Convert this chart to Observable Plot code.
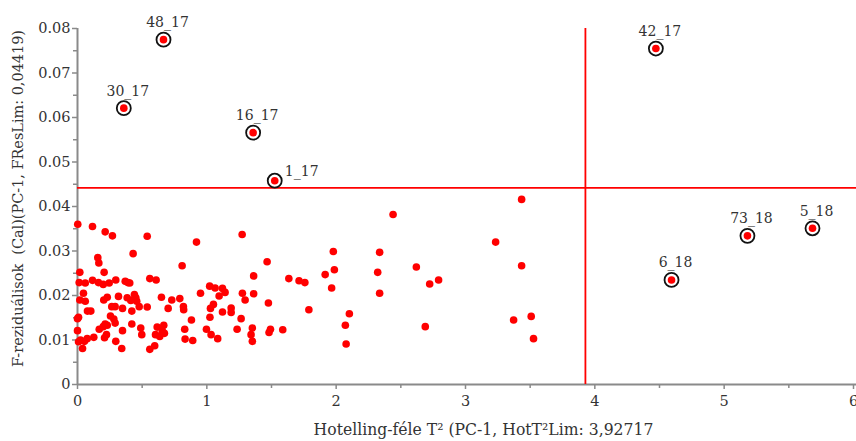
<!DOCTYPE html>
<html>
<head>
<meta charset="utf-8">
<script src="https://cdn.jsdelivr.net/npm/d3@7"></script>
<script src="https://cdn.jsdelivr.net/npm/@observablehq/plot@0.6"></script>
<style>
  body { margin: 0; background: #fff; }
  #chart svg { display: block; }
</style>
</head>
<body>
<div id="chart"></div>
<script>
// Hotelling T² and F-residual values of the calibration samples (PC-1)
const hotT2 = [
  0.002, 0.116, 0.214, 0.270, 0.430, 0.157, 0.165, 0.206, 0.018, 0.013,
  0.060, 0.116, 0.162, 0.199, 0.245, 0.296, 0.369, 0.389, 0.404, 0.046,
  0.018, 0.060, 0.203, 0.230, 0.317, 0.384, 0.412, 0.440, 0.451, 0.458,
  0.265, 0.291, 0.348, 0.420, 0.477, 0.077, 0.103, 0.000, 0.008, 0.255,
  0.281, 0.214, 0.230, 0.168, 0.199, 0.291, 0.348, 0.420, 0.489, 0.497,
  0.000, 0.209, 0.224, 0.126, 0.075, 0.054, 0.008, 0.023, 0.039, 0.296,
  0.342, 0.539, 0.920, 0.809, 0.559, 0.608, 0.649, 0.729, 0.791, 0.951,
  1.022, 0.539, 0.701, 0.819, 0.821, 1.028, 0.881, 1.024, 0.616, 0.667,
  0.655, 0.603, 0.636, 0.672, 0.829, 0.997, 1.033, 0.832, 0.891, 0.559,
  0.597, 1.273, 1.466, 1.362, 1.064, 1.121, 1.141, 1.095, 1.275, 1.296,
  1.362, 1.476, 1.051, 1.188, 1.188, 1.121, 1.265, 1.234, 1.352, 1.342,
  1.352, 1.492, 1.481, 1.084, 1.587, 1.634, 1.713, 1.758, 1.789, 1.915,
  1.978, 1.986, 1.965, 2.071, 2.102, 2.077, 2.321, 2.336, 2.336, 2.440,
  2.620, 2.723, 2.792, 2.689, 3.233, 3.434, 3.434, 3.372, 3.508, 3.526
];
const fResid = [
  0.0360, 0.0355, 0.0343, 0.0334, 0.0294, 0.0285, 0.0273, 0.0252, 0.0252, 0.0229,
  0.0228, 0.0234, 0.0229, 0.0225, 0.0228, 0.0235, 0.0232, 0.0229, 0.0228, 0.0205,
  0.0190, 0.0187, 0.0190, 0.0196, 0.0198, 0.0195, 0.0189, 0.0202, 0.0195, 0.0187,
  0.0175, 0.0175, 0.0171, 0.0165, 0.0175, 0.0165, 0.0165, 0.0148, 0.0151, 0.0154,
  0.0147, 0.0136, 0.0133, 0.0124, 0.0130, 0.0138, 0.0121, 0.0136, 0.0127, 0.0112,
  0.0121, 0.0105, 0.0112, 0.0106, 0.0103, 0.0097, 0.0096, 0.0100, 0.0081, 0.0097,
  0.0081, 0.0333, 0.0320, 0.0267, 0.0238, 0.0235, 0.0196, 0.0190, 0.0193, 0.0205,
  0.0221, 0.0174, 0.0171, 0.0175, 0.0168, 0.0171, 0.0145, 0.0151, 0.0129, 0.0133,
  0.0121, 0.0112, 0.0108, 0.0115, 0.0124, 0.0124, 0.0112, 0.0102, 0.0099, 0.0079,
  0.0087, 0.0337, 0.0276, 0.0244, 0.0217, 0.0216, 0.0207, 0.0199, 0.0205, 0.0190,
  0.0204, 0.0183, 0.0180, 0.0172, 0.0162, 0.0163, 0.0148, 0.0124, 0.0127, 0.0112,
  0.0097, 0.0124, 0.0117, 0.0103, 0.0123, 0.0238, 0.0233, 0.0229, 0.0168, 0.0247,
  0.0299, 0.0258, 0.0217, 0.0133, 0.0159, 0.0091, 0.0252, 0.0297, 0.0205, 0.0382,
  0.0264, 0.0226, 0.0235, 0.0130, 0.0320, 0.0416, 0.0267, 0.0145, 0.0153, 0.0103
];

// Flagged samples (outside at least one limit)
const outlierNames = ["48_17", "30_17", "16_17", "1_17", "42_17", "73_18", "5_18", "6_18"];
const outlierT2    = [0.665, 0.358, 1.358, 1.525, 4.472, 5.180, 5.683, 4.593];
const outlierF     = [0.0775, 0.0621, 0.0566, 0.0458, 0.0755, 0.0334, 0.0351, 0.0235];

// Limits
const hotT2Lim = 3.92717;
const fResLim = 0.04419;

// Axis ticks
const xTicks = [0, 1, 2, 3, 4, 5, 6];
const xMinorTicks = [0.5, 1.5, 2.5, 3.5, 4.5, 5.5];
const yTicks = [0, 0.01, 0.02, 0.03, 0.04, 0.05, 0.06, 0.07, 0.08];
const yMinorTicks = [0.005, 0.015, 0.025, 0.035, 0.045, 0.055, 0.065, 0.075];

const xTitle = "Hotelling-féle T² (PC-1, HotT²Lim: 3,92717";
const yTitle = "F-reziduálisok  (Cal)(PC-1, FResLim: 0,04419)";

const samples = hotT2.map((t, i) => ({t, f: fResid[i]}));
const outliers = outlierNames.map((name, i) => ({name, t: outlierT2[i], f: outlierF[i]}));

const serif = "DejaVu Serif, serif";
const axisGrey = "#8a8a8a";
const textGrey = "#333";

const chart = Plot.plot({
  width: 856,
  height: 441,
  marginLeft: 77,
  marginRight: 3,
  marginTop: 28,
  marginBottom: 57,
  style: {fontFamily: serif, background: "#fff"},
  x: {domain: [0, 6]},
  y: {domain: [0, 0.08]},
  marks: [
    // axis lines
    Plot.ruleY([0], {stroke: axisGrey, strokeWidth: 2, x1: 0, x2: 6.03}),
    Plot.ruleX([0], {stroke: axisGrey, strokeWidth: 2, y1: 0, y2: 0.08}),
    // minor ticks
    Plot.axisX({ticks: xMinorTicks, tickSize: 4, tickFormat: () => "", stroke: axisGrey, strokeWidth: 1.5, label: null}),
    Plot.axisY({ticks: yMinorTicks, tickSize: 4, tickFormat: () => "", stroke: axisGrey, strokeWidth: 1.5, label: null}),
    // major ticks with labels
    Plot.axisX({ticks: xTicks, tickSize: 5, tickPadding: 6, fontSize: 14.5, fontFamily: serif, stroke: axisGrey, strokeWidth: 1.5, fill: textGrey, tickFormat: d => String(d), label: null}),
    Plot.axisY({ticks: yTicks, tickSize: 5, tickPadding: 2, fontSize: 14.5, fontFamily: serif, stroke: axisGrey, strokeWidth: 1.5, fill: textGrey, tickFormat: d => d === 0 ? "0" : d.toFixed(2), label: null}),
    // limit lines
    Plot.ruleY([fResLim], {stroke: "#ff0000", strokeWidth: 1.8, x1: 0, x2: 6.03}),
    Plot.ruleX([hotT2Lim], {stroke: "#ff0000", strokeWidth: 1.8, y1: 0, y2: 0.08}),
    // samples
    Plot.dot(samples, {x: "t", y: "f", r: 3.8, fill: "#ff0000", stroke: "none"}),
    // flagged samples: ring + dot + name
    Plot.dot(outliers, {x: "t", y: "f", r: 7, fill: "#fff", stroke: "#111", strokeWidth: 1.8}),
    Plot.dot(outliers, {x: "t", y: "f", r: 3.8, fill: "#ff0000", stroke: "none"}),
    Plot.text(outliers.filter(d => d.name !== "1_17"), {x: "t", y: "f", text: "name", dx: 4, dy: -17, fontSize: 14, fontFamily: serif, fill: textGrey}),
    Plot.text(outliers.filter(d => d.name === "1_17"), {x: "t", y: "f", text: "name", dx: 27, dy: -9, fontSize: 14, fontFamily: serif, fill: textGrey}),
    // axis titles
    Plot.text([xTitle], {frameAnchor: "bottom", textAnchor: "middle", dx: 18, dy: 50, fontSize: 16, fontFamily: serif, fill: textGrey}),
    Plot.text([yTitle], {frameAnchor: "left", textAnchor: "middle", dx: -59, dy: -8, rotate: -90, fontSize: 15, fontFamily: serif, fill: textGrey})
  ]
});

document.getElementById("chart").appendChild(chart);

// squeeze the axis titles along their baseline to their printed lengths
const titleLengths = [["Hotelling", 340], ["F-rezid", 337]];
d3.select(chart).selectAll("text").each(function () {
  const match = titleLengths.find(([prefix]) => (this.textContent || "").startsWith(prefix));
  if (!match) return;
  const natural = this.getComputedTextLength();
  if (!(natural > 0)) return;
  const s = Math.min(1, match[1] / natural);
  const t = this.getAttribute("transform") || "";
  if (this.hasAttribute("x") || this.hasAttribute("y")) {
    this.setAttribute("textLength", match[1]);
    this.setAttribute("lengthAdjust", "spacingAndGlyphs");
  } else {
    this.setAttribute("transform", `${t} scale(${s},1)`);
  }
});
</script>
</body>
</html>
